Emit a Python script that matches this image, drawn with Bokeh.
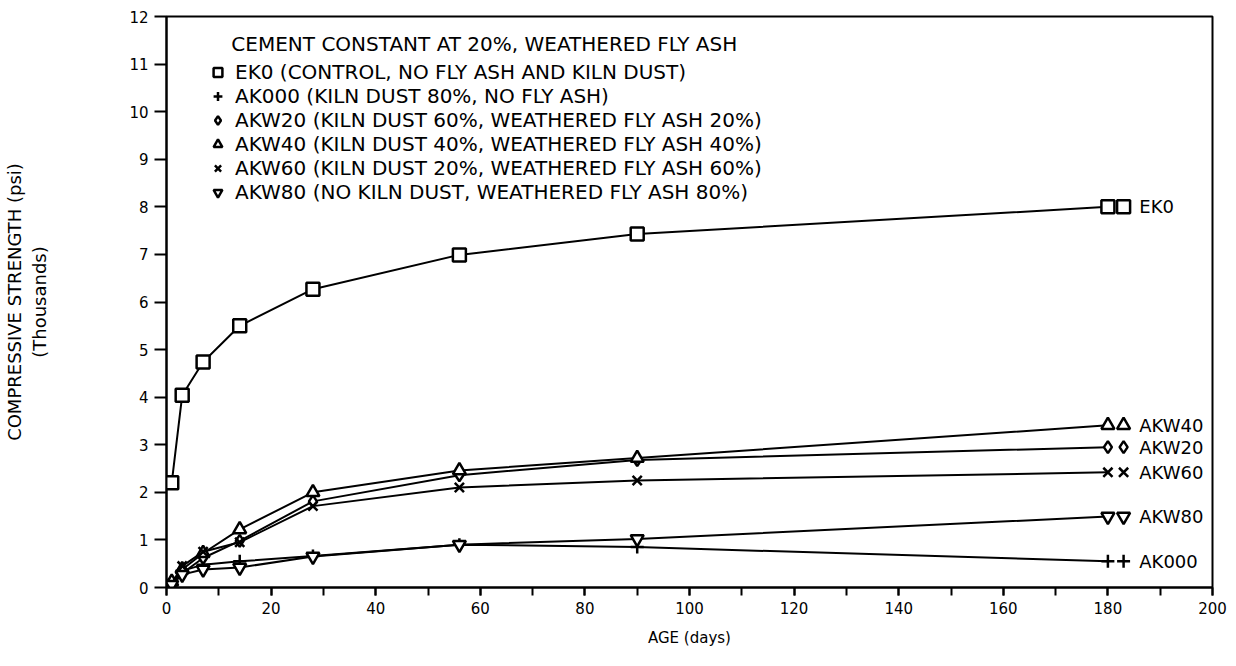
from bokeh.plotting import figure
from bokeh.models import Legend, LegendItem, Label, FixedTicker, Range1d
from bokeh.embed import file_html
from bokeh.resources import INLINE
from bokeh.core.properties import value

# ---- data ----
ages = [1, 3, 7, 14, 28, 56, 90, 180]
ek0 = [2.2, 4.04, 4.74, 5.5, 6.27, 6.99, 7.43, 8.0]
ak000 = [0.08, 0.35, 0.48, 0.55, 0.66, 0.9, 0.85, 0.55]
akw20 = [0.1, 0.3, 0.62, 0.98, 1.81, 2.36, 2.68, 2.95]
akw40 = [0.12, 0.38, 0.72, 1.22, 2.0, 2.46, 2.72, 3.41]
akw60 = [0.08, 0.45, 0.75, 0.95, 1.71, 2.1, 2.25, 2.42]
akw80 = [0.06, 0.27, 0.38, 0.42, 0.65, 0.9, 1.02, 1.49]

series_names = ["EK0", "AK000", "AKW20", "AKW40", "AKW60", "AKW80"]
series_values = [ek0, ak000, akw20, akw40, akw60, akw80]
series_markers = ["square", "cross", "diamond", "triangle", "x", "inverted_triangle"]
series_sizes = [13, 13, 12, 13, 13, 13]
legend_labels = [
    "EK0 (CONTROL, NO FLY ASH AND KILN DUST)",
    "AK000 (KILN DUST 80%, NO FLY ASH)",
    "AKW20 (KILN DUST 60%, WEATHERED FLY ASH 20%)",
    "AKW40 (KILN DUST 40%, WEATHERED FLY ASH 40%)",
    "AKW60 (KILN DUST 20%, WEATHERED FLY ASH 60%)",
    "AKW80 (NO KILN DUST, WEATHERED FLY ASH 80%)",
]
legend_title = "CEMENT CONSTANT AT 20%, WEATHERED FLY ASH"
x_ticks = list(range(0, 201, 20))
x_minor = list(range(0, 201, 10))
y_ticks = list(range(0, 13))

FONT = "DejaVu Sans"
END_MARK_DX = 3.0   # second marker next to the end label
END_TEXT_DX = 6.0

p = figure(width=1227, height=657, output_backend="svg", toolbar_location=None,
           x_range=Range1d(0, 200), y_range=Range1d(0, 12),
           min_border_left=166, min_border_right=15, min_border_top=16, min_border_bottom=70)
p.xgrid.visible = False
p.ygrid.visible = False
p.outline_line_color = "black"
p.outline_line_width = 2
p.background_fill_color = "white"

p.xaxis.ticker = FixedTicker(ticks=x_ticks, minor_ticks=x_minor)
p.yaxis.ticker = FixedTicker(ticks=y_ticks)
for ax in (p.xaxis[0], p.yaxis[0]):
    ax.axis_line_width = 2
    ax.axis_line_color = "black"
    ax.major_tick_line_width = 2
    ax.minor_tick_line_width = 2
    ax.major_tick_in = 0
    ax.minor_tick_in = 0
    ax.major_label_text_font = FONT
    ax.major_label_text_font_size = "15px"
    ax.major_label_text_color = "black"
    ax.axis_label_text_font = FONT
    ax.axis_label_text_font_style = "normal"
    ax.axis_label_text_color = "black"
p.xaxis.major_tick_out = 8
p.xaxis.minor_tick_out = 8
p.xaxis.major_label_standoff = 6
p.xaxis.axis_label = "AGE (days)"
p.xaxis.axis_label_text_font_size = "15px"
p.xaxis.axis_label_standoff = 12
p.yaxis.major_tick_out = 12
p.yaxis.minor_tick_out = 0
p.yaxis.major_label_standoff = 6
p.yaxis.axis_label = "COMPRESSIVE STRENGTH (psi)\n(Thousands)"
p.yaxis.axis_label_text_font_size = "18px"
p.yaxis.axis_label_standoff = 76

items = []
for name, vals, mk, sz, lab in zip(series_names, series_values, series_markers,
                                   series_sizes, legend_labels):
    p.line(ages, vals, line_color="black", line_width=2)
    r = p.scatter(ages, vals, marker=mk, size=sz, line_color="black",
                  fill_color="white", line_width=2.5)
    # end marker + label (direct labelling at the right)
    p.scatter([ages[-1] + END_MARK_DX], [vals[-1]], marker=mk, size=sz,
              line_color="black", fill_color="white", line_width=2.5)
    p.text([ages[-1] + END_TEXT_DX], [vals[-1]], text=[name], text_baseline="middle",
           text_align="left", text_font=value(FONT), text_font_size="18px",
           text_color="black")
    items.append(LegendItem(label=lab, renderers=[r]))

legend = Legend(items=items, location=(32, 377), border_line_alpha=0,
                background_fill_alpha=0, glyph_width=27, glyph_height=22,
                spacing=0, padding=6, label_standoff=4, label_height=20,
                label_text_font=FONT, label_text_font_size="20px",
                label_text_color="black")
p.add_layout(legend)

p.add_layout(Label(x=12.4, y=11.43, text=legend_title, text_baseline="middle",
                   text_font=FONT, text_font_size="20px", text_color="black"))

open("out.html", "w").write(file_html(p, INLINE))
